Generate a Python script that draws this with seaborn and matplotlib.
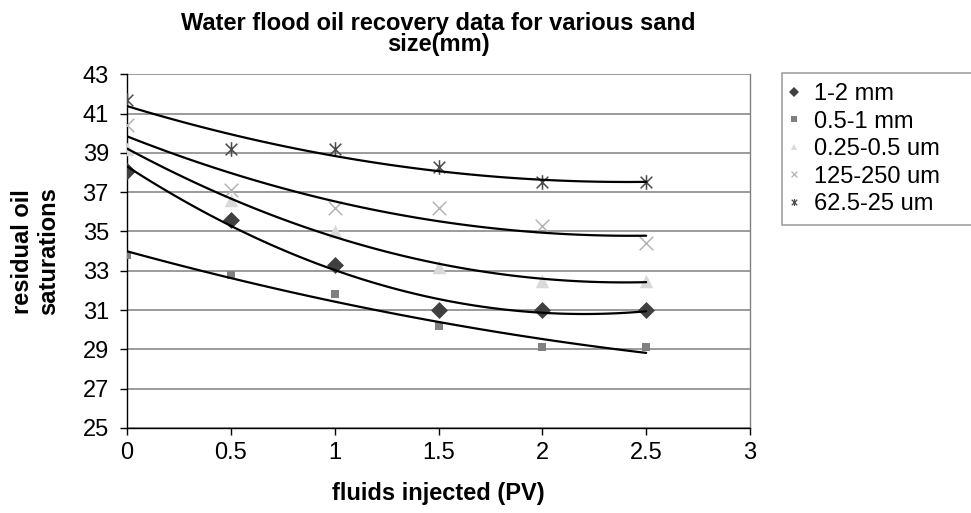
import numpy as np
import pandas as pd
import matplotlib.pyplot as plt
import seaborn as sns
from matplotlib.path import Path
from matplotlib.lines import Line2D

# fluids injected (PV)
pv = [0, 0.5, 1, 1.5, 2, 2.5]

# residual oil saturation per sand size
sand_sizes = ["1-2 mm", "0.5-1 mm", "0.25-0.5 um", "125-250 um", "62.5-25 um"]
sat_1_2mm = [38.1, 35.6, 33.3, 31.0, 31.0, 31.0]
sat_05_1mm = [33.8, 32.8, 31.8, 30.2, 29.1, 29.1]
sat_025_05um = [39.2, 36.6, 35.0, 33.2, 32.5, 32.5]
sat_125_250um = [40.4, 37.1, 36.2, 36.2, 35.3, 34.4]
sat_625_25um = [41.7, 39.2, 39.2, 38.3, 37.5, 37.5]

# Excel style "star" marker: an x with a vertical bar through it
star = Path([(-1, -1), (1, 1), (-1, 1), (1, -1), (0, -1.25), (0, 1.25)],
            [Path.MOVETO, Path.LINETO] * 3)

series = [sat_1_2mm, sat_05_1mm, sat_025_05um, sat_125_250um, sat_625_25um]
markers = ["D", "s", "^", "x", star]
colors = ["#404040", "#808080", "#d9d9d9", "#b4b4b4", "#4a4a4a"]
sizes = [75, 28, 95, 95, 110]
filled = [True, True, True, False, False]

sns.set_theme(style="white")
plt.rcParams['font.family'] = ['Liberation Sans', 'DejaVu Sans']
plt.rcParams['text.color'] = 'black'
plt.rcParams['axes.labelcolor'] = 'black'
plt.rcParams['xtick.color'] = 'black'
plt.rcParams['ytick.color'] = 'black'

fig = plt.figure(figsize=(9.71, 5.13), dpi=100)
ax = fig.add_axes([0.1308, 0.1657, 0.6416, 0.6895])

handles = []
for name, vals, m, c, s, f in zip(sand_sizes, series, markers, colors, sizes, filled):
    df = pd.DataFrame({"pv": pv, "sat": vals})
    if f:
        sns.scatterplot(data=df, x="pv", y="sat", marker=m, color=c, s=s,
                        edgecolor=c, linewidth=0, ax=ax, zorder=3)
    else:
        sns.scatterplot(data=df, x="pv", y="sat", marker=m, color=c, s=s,
                        edgecolor=c, linewidth=1.1, ax=ax, zorder=3)
    # second order polynomial trendline
    coef = np.polyfit(pv, vals, 2)
    xs = np.linspace(min(pv), max(pv), 100)
    sns.lineplot(x=xs, y=np.polyval(coef, xs), color="black", linewidth=1.6, ax=ax, zorder=4)
    handles.append(Line2D([], [], linestyle="none", marker=m, color=c,
                          markeredgecolor=c,
                          markersize=5 if m != "s" else 4, markeredgewidth=0 if f else 0.9,
                          label=name))

ax.set_xlim(0, 3)
ax.set_ylim(25, 43)
ax.set_xticks(np.arange(0, 3.01, 0.5))
ax.set_xticklabels(["0", "0.5", "1", "1.5", "2", "2.5", "3"])
ax.set_yticks(np.arange(25, 43.1, 2))

ax.yaxis.grid(True, color="#808080", linewidth=1.1)
ax.xaxis.grid(False)
ax.set_axisbelow(True)
for side in ["left", "bottom"]:
    ax.spines[side].set_color("black")
    ax.spines[side].set_linewidth(1)
ax.spines["top"].set_visible(False)
ax.spines["right"].set_color("#808080")
ax.spines["right"].set_linewidth(1)

ax.tick_params(axis="both", direction="out", length=5, width=1, color="black",
               labelcolor="black", labelsize=17, left=True, bottom=True)
ax.tick_params(axis="y", pad=8)
ax.tick_params(axis="x", pad=5)

ax.set_title("Water flood oil recovery data for various sand\nsize(mm)",
             fontsize=17, fontweight="bold", pad=17, linespacing=0.85, color="black")
ax.set_xlabel("fluids injected (PV)", fontsize=17, fontweight="bold", labelpad=13)
ax.set_ylabel("residual oil\nsaturations", fontsize=17, fontweight="bold", linespacing=1.15)
ax.yaxis.set_label_coords(-0.108, 0.5)

leg = ax.legend(handles=handles, loc="upper left", bbox_to_anchor=(0.8054, 0.567, 0.25, 0.29),
                bbox_transform=fig.transFigure, mode="expand", borderaxespad=0,
                fontsize=17, frameon=True, fancybox=False, handlelength=0.2,
                handletextpad=0.72, borderpad=0.42, labelspacing=0.23)
leg.get_frame().set_edgecolor("#808080")
leg.get_frame().set_linewidth(1.1)
for t in leg.get_texts():
    t.set_color("black")

fig.savefig("out.png", dpi=100)
